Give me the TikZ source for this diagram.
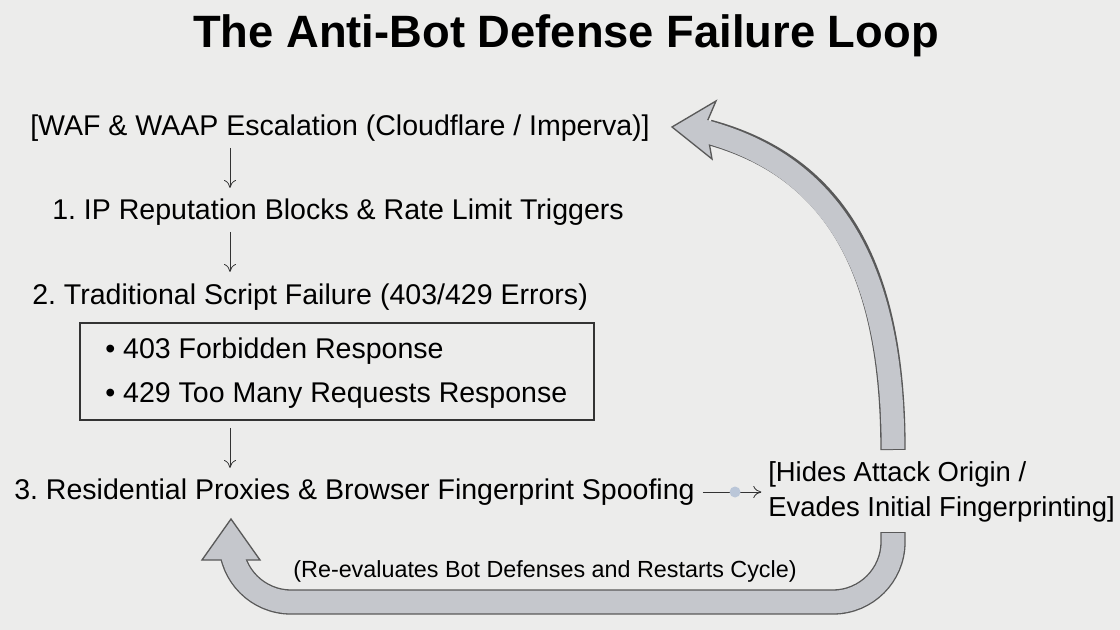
\documentclass[tikz,border=0pt]{standalone}
\usepackage{fontspec}
\setmainfont{Liberation Sans}
\usetikzlibrary{arrows.meta}
\begin{document}
\frenchspacing
\begin{tikzpicture}[x=0.75pt,y=-0.75pt,
  txt/.style={inner sep=0pt,anchor=west,font=\fontsize{21.4pt}{25pt}\selectfont},
  conn/.style={draw=black!80,line width=0.6pt,-{To[length=6pt,width=9pt]}},
  big/.style={line width=19pt,draw=black!65},
  bigin/.style={line width=17pt,draw=arrowgray},
  headst/.style={fill=arrowgray,draw=black!65,line width=1pt,line join=miter}]
\definecolor{bg}{HTML}{ECECEB}
\definecolor{arrowgray}{HTML}{C5C7CC}
\definecolor{dotc}{HTML}{BAC6D8}
\fill[bg] (0,0) rectangle (1120,630);
\useasboundingbox (0,0) rectangle (1120,630);
\node[inner sep=0pt,font=\fontsize{34pt}{38pt}\selectfont\bfseries] (title) at (566,36) {The Anti-Bot Defense Failure Loop};
\node[txt] (waf) at (30,128) {[WAF \& WAAP Escalation (Cloudflare / Imperva)]};
\node[txt] (s1) at (52,212) {1. IP Reputation Blocks \& Rate Limit Triggers};
\node[txt] (s2) at (32,297) {2. Traditional Script Failure (403/429 Errors)};
\node[draw=black!80,line width=0.8pt,minimum width=514pt*0.75,minimum height=97pt*0.75,inner sep=0pt] (box) at (337,371.5) {};
\node[txt] (b1) at (105,351) {• 403 Forbidden Response};
\node[txt] (b2) at (105,395) {• 429 Too Many Requests Response};
\node[txt] (s3) at (14,492) {3. Residential Proxies \& Browser Fingerprint Spoofing};
\node[txt,align=left,font=\fontsize{20.6pt}{26.5pt}\selectfont] (hide) at (768,492) {[Hides Attack Origin /\\Evades Initial Fingerprinting]};
\node[inner sep=0pt,font=\fontsize{17.5pt}{20pt}\selectfont] (re) at (545,571) {(Re-evaluates Bot Defenses and Restarts Cycle)};
\coordinate (a1s) at (230,148); \coordinate (a1e) at (230,188);
\coordinate (a2s) at (230,232); \coordinate (a2e) at (230,272);
\coordinate (a3s) at (230,428); \coordinate (a3e) at (230,468);
\draw[conn] (a1s) -- (a1e);
\draw[conn] (a2s) -- (a2e);
\draw[conn] (a3s) -- (a3e);
\draw[conn] ([xshift=6pt]s3.east) -- ([xshift=-5pt]hide.west) node[pos=0.55,circle,fill=dotc,inner sep=0pt,minimum size=11pt*0.75]{};
% top big arrow
\draw[big] (893,450) .. controls (893,260) and (830,165) .. (708,132);
\draw[headst] (672,127) -- (716,101) -- (707,122) -- (709,142) -- (712,159) -- cycle;
\draw[bigin] (893,449) .. controls (893,260) and (826,162) .. (700,130);
% bottom big arrow
\draw[big,rounded corners=45pt] (893,532) -- (893,602) -- (231,602) -- (231,559);
\draw[headst] (231,519) -- (260,560) -- (202,560) -- cycle;
\draw[bigin,rounded corners=45pt] (893,533) -- (893,602) -- (231,602) -- (231,555);
\end{tikzpicture}
\end{document}
